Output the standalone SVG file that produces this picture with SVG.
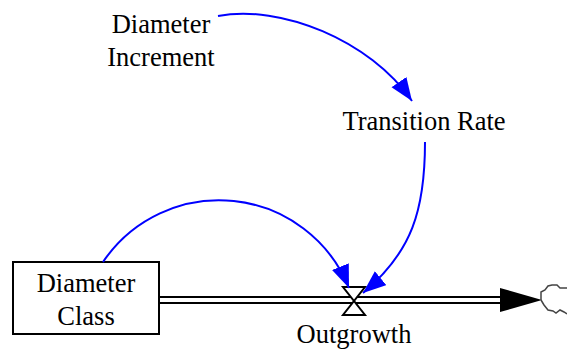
<svg xmlns="http://www.w3.org/2000/svg" width="567" height="354" viewBox="0 0 567 354">
<style>
text{font-family:'Liberation Serif','DejaVu Serif',serif;font-size:26.5px;fill:#000;text-anchor:middle}
.link{fill:none;stroke:#0000ff;stroke-width:2;marker-end:url(#ah)}
</style>
<defs>
<marker id="ah" markerUnits="userSpaceOnUse" markerWidth="26" markerHeight="20" refX="23" refY="9" orient="auto">
<path d="M0,0 L23,9 L0,18 z" fill="#0000ff"/>
</marker>
</defs>
<rect width="567" height="354" fill="#fff"/>
<g id="flow">
<line x1="159" y1="300" x2="502" y2="300" stroke="#000" stroke-width="8"/>
<line x1="159" y1="300" x2="503" y2="300" stroke="#fff" stroke-width="4"/>
<path d="M500,288 L542,300 L500,312 z" fill="#000"/>
</g>
<g id="cloud">
<path d="M541,300 L541,292 L545,290 L548,286 L552,285 L557,285 L560,288 L567,288 M541,300 L544,305 L548,310 L553,311 L556,313 L560,310 L564,312 L567,314" fill="none" stroke="#444" stroke-width="1.5"/>
</g>
<g id="outgrowth">
<path d="M343,287 L365,287 L343,315 L365,315 z" fill="#fff" stroke="#000" stroke-width="2" stroke-linejoin="miter"/>
<text font-family="Liberation Serif, serif" x="354" y="343">Outgrowth</text>
</g>
<g id="diameter-class">
<rect x="13" y="262" width="146" height="72" fill="#fff" stroke="#000" stroke-width="2"/>
<text font-family="Liberation Serif, serif" x="86" y="292">Diameter</text>
<text font-family="Liberation Serif, serif" x="86" y="325">Class</text>
</g>
<g id="diameter-increment">
<text font-family="Liberation Serif, serif" x="161" y="33">Diameter</text>
<text font-family="Liberation Serif, serif" x="161" y="66">Increment</text>
</g>
<g id="transition-rate">
<text font-family="Liberation Serif, serif" x="424" y="130">Transition Rate</text>
</g>
<g id="connectors">
<path class="link" d="M218,16 C280,4 370,40 412,101"/>
<path class="link" d="M425,142 C425,210 412,252 363,293"/>
<path class="link" d="M103,262 A140,140 0 0 1 349,288"/>
</g>
</svg>
